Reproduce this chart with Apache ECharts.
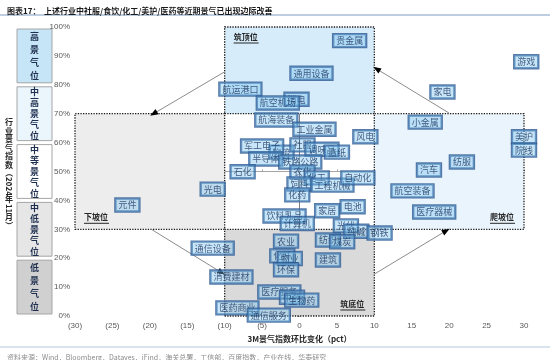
<!DOCTYPE html>
<html><head><meta charset="utf-8">
<script src="https://cdn.jsdelivr.net/npm/echarts@6/dist/echarts.min.js"></script>
<style>html,body{margin:0;padding:0;background:#fff}#c{width:550px;height:360px}</style>
</head><body><div id="c"></div>
<script>
// ---- data ----
const industryNames = ['贵金属','通用设备','航运港口','消电','航空机场','航海装备','工业金属','风电',
  '物流','军工电子','社服','调味品','造纸','半导体','铁路公路','石化','农化','化工','饲料','工程机械','自动化',
  '化药','光电','元件','家居','电池','饮料乳品','计算机','光伏','纯碱','纺织','煤炭','钢铁',
  '农业','化纤','物业','环保','建筑','通信设备','消费建材','医疗服务','中药','生物药','医药商业','通信服务',
  '小金属','家电','游戏','美护','院线','纺服','汽车','航空装备','医疗器械'];
const changeValues = [6.7,1.6,-7.9,-0.4,-2.9,-3.1,2.0,8.8,
  -2.4,-5.0,0.4,3.0,5.0,-4.5,0.1,-7.6,0.4,2.3,0.0,4.4,7.8,
  -0.3,-11.6,-23.0,3.7,7.1,-2.0,-0.3,6.2,7.6,3.8,5.7,10.7,
  -1.8,-2.3,-1.3,-1.8,3.8,-11.6,-9.1,-2.7,-1.0,0.3,-8.3,-4.1,
  16.8,19.1,30.3,30.0,30.0,21.7,17.3,15.1,18.0];
const indexValues = [95.3,84.0,78.5,75.0,73.7,67.8,64.6,62.0,
  56.7,58.8,59.2,57.7,56.7,54.3,53.3,49.9,49.8,47.8,45.7,45.3,47.8,
  41.9,43.9,38.4,36.4,37.8,34.6,32.0,31.2,29.3,26.3,25.7,28.7,
  25.9,20.8,19.9,16.0,19.4,23.5,13.5,8.3,6.5,5.5,2.8,0.3,
  67.1,77.5,88.0,62.0,57.4,53.3,50.5,43.3,36.0];
const xTicksMin = -30, xTicksMax = 30, xTickStep = 5;
const yTicksMin = 0, yTicksMax = 100, yTickStep = 10;
const quadNames = ['筑顶位','下坡位','筑底位','爬坡位'];
const quadX0 = [-10,-30,-10,10];
const quadX1 = [10,-10,10,30];
const quadY0 = [70,30,0,30];
const quadY1 = [100,70,30,70];
const arrowFromX = [-10,-19.8,10,20.0];
const arrowFromY = [84.5,30,14.5,70.2];
const arrowToX = [-19.5,-10.4,19.6,10.3];
const arrowToY = [70,15,29.5,85.5];
const bandNames = ['高景气位','中高景气位','中等景气位','中低景气位','低景气位'];
const bandFrom = [80,60,40,20,0];
const bandTo = [100,80,60,40,20];

// ---- styles ----
const quadColors = ['#d6ecfa','#ededed','#dadada','#e9f4fc'];
const quadLabelCorner = ['tl','bl','br','br'];
const bandColors = ['#c6e6f8','#eaf5fc','#ffffff','#e6e6e6','#d0d0d0'];
const CJK = '"Noto Sans CJK SC", sans-serif';
const LAT = '"Liberation Sans", Arial, sans-serif';

const chart = echarts.init(document.getElementById('c'), null, {renderer:'canvas'});

const quadAreas = quadNames.map((n,i)=>[
  {xAxis:quadX0[i], yAxis:quadY0[i], itemStyle:{color:quadColors[i]}},
  {xAxis:quadX1[i], yAxis:quadY1[i]}
]);
const arrowLines = arrowFromX.map((x,i)=>[{coord:[x,arrowFromY[i]]},{coord:[arrowToX[i],arrowToY[i]]}]);
const arrowHeads = arrowFromX.map((x,i)=>{
  const tx=arrowToX[i], ty=arrowToY[i];
  return [{coord:[tx-(tx-x)*0.03, ty-(ty-arrowFromY[i])*0.03]},{coord:[tx,ty]}];
});

const option = {
  animation:false,
  title:[
    {text:'图表17：  上述行业中社服/食饮/化工/美护/医药等近期景气已出现边际改善', left:2, top:2,
     textStyle:{fontSize:8,fontWeight:'bold',color:'#1a1a1a',fontFamily:CJK}},
    {text:'资料来源：Wind，Bloomberg，Datayes，iFind，海关总署，工信部，百度指数，产业在线，华泰研究', left:2, top:349,
     textStyle:{fontSize:7,fontWeight:'normal',color:'#8c8c8c',fontFamily:CJK}}
  ],
  grid:{left:75,right:26,top:27,bottom:44,containLabel:false},
  xAxis:[
    {type:'value',min:xTicksMin,max:xTicksMax,interval:xTickStep,
     axisLine:{show:false,onZero:false},axisTick:{show:false},splitLine:{show:false},
     axisLabel:{fontSize:8,color:'#595959',fontFamily:LAT,margin:6,
       formatter:v=>v<0?'('+(-v)+')':String(v)},
     name:'3M景气指数环比变化（pct）',nameLocation:'middle',nameGap:19,
     nameTextStyle:{fontSize:8,fontWeight:'bold',color:'#262626',fontFamily:CJK}},
    {type:'value',min:xTicksMin,max:xTicksMax,interval:xTickStep,position:'bottom',
     axisLine:{show:true,onZero:true,onZeroAxisIndex:1,lineStyle:{color:'#a6a6a6',width:1}},
     axisTick:{show:true,inside:true,length:2,lineStyle:{color:'#a6a6a6'}},
     axisLabel:{show:false},splitLine:{show:false}}
  ],
  yAxis:[
    {type:'value',min:yTicksMin,max:yTicksMax,interval:yTickStep,
     axisLine:{show:false,onZero:false},axisTick:{show:false},splitLine:{show:false},
     axisLabel:{fontSize:8,color:'#595959',fontFamily:LAT,margin:5,formatter:v=>v+'%'}},
    {type:'value',min:-50,max:50,show:false,axisLine:{onZero:false}},
    {type:'value',min:yTicksMin,max:yTicksMax,interval:yTickStep,position:'left',
     axisLine:{show:true,onZero:true,onZeroAxisIndex:1,lineStyle:{color:'#7f7f7f',width:1}},
     axisTick:{show:true,inside:false,length:2,lineStyle:{color:'#7f7f7f'}},
     axisLabel:{show:false},splitLine:{show:false}}
  ],
  series:[
    {type:'scatter',xAxisIndex:0,yAxisIndex:0,data:[],z:1,silent:true,
     markArea:{silent:true,
       itemStyle:{borderColor:'#1a1a1a',borderWidth:1.3,borderType:'dotted'},
       label:{show:false},
       data:quadAreas},
     markLine:{silent:true,symbol:['none','none'],
       lineStyle:{color:'#8c8c8c',width:1,type:'solid'},label:{show:false},
       data:arrowLines}},
    {type:'scatter',xAxisIndex:0,yAxisIndex:0,data:[],z:2,silent:true,
     markLine:{silent:true,symbol:['none','triangle'],symbolSize:[6,8],
       lineStyle:{color:'#000',width:1,type:'solid'},label:{show:false},
       data:arrowHeads}},
    {type:'scatter',xAxisIndex:0,yAxisIndex:0,z:5,symbolSize:1,clip:false,silent:true,
     itemStyle:{color:'rgba(0,0,0,0)'},
     data:industryNames.map((n,i)=>({name:n,value:[changeValues[i],indexValues[i]]})),
     label:{show:true,position:'inside',formatter:'{b}',fontSize:9,color:'#1f3864',fontFamily:CJK,
       backgroundColor:'rgba(118,192,238,0.5)',borderColor:'#2e5a94',borderWidth:1.2,padding:[2,3]}}
  ]
};
chart.setOption(option);

// ---- decorations: left band panel, y title, rules, quadrant names ----
const g = [];
g.push({type:'line',shape:{x1:0,y1:15,x2:550,y2:15},style:{stroke:'#a9bcd6',lineWidth:1.5},silent:true});
g.push({type:'line',shape:{x1:0,y1:347,x2:550,y2:347},style:{stroke:'#cdd9ea',lineWidth:1.5},silent:true});
bandNames.forEach((n,i)=>{
  const yt = chart.convertToPixel({yAxisIndex:0}, bandTo[i]);
  const yb = chart.convertToPixel({yAxisIndex:0}, bandFrom[i]);
  g.push({type:'rect',shape:{x:17,y:yt+2,width:35,height:yb-yt-4},
    style:{fill:bandColors[i],stroke:'#a6a6a6',lineWidth:1},silent:true});
  g.push({type:'text',x:34.5,y:(yt+yb)/2,silent:true,
    style:{text:n.split('').join('\n'),align:'center',verticalAlign:'middle',
      fontSize:9,fontWeight:'bold',fill:'#1f2f4f',fontFamily:CJK,lineHeight:n.length>4?11:13}});
});
quadNames.forEach((n,i)=>{
  const c = quadLabelCorner[i];
  const px = chart.convertToPixel({xAxisIndex:0}, c[1]==='l'?quadX0[i]:quadX1[i]);
  const py = chart.convertToPixel({yAxisIndex:0}, c[0]==='t'?quadY1[i]:quadY0[i]);
  const w = 25;
  const x = c[1]==='l' ? px+9 : px-9-w;
  const y = c[0]==='t' ? py+6 : py-16;
  g.push({type:'text',x:x,y:y,silent:true,z:10,
    style:{text:n,align:'left',verticalAlign:'top',fontSize:8,fontWeight:'bold',fill:'#262626',fontFamily:CJK}});
  g.push({type:'line',shape:{x1:x,y1:y+10,x2:x+w,y2:y+10},silent:true,z:10,style:{stroke:'#262626',lineWidth:1}});
});
const yTitleTokens = ['行','业','景','气','指','数','（','2024','年','11','月','）'];
let ty = 118;
yTitleTokens.forEach(t=>{
  const rot = /[0-9（）]/.test(t);
  if (rot) {
    const len = /[0-9]/.test(t) ? t.length*4.6 : 8;
    g.push({type:'text',x:9,y:ty,rotation:-Math.PI/2,silent:true,
      style:{text:t,align:'left',verticalAlign:'middle',fontSize:8,fontWeight:'bold',fill:'#262626',fontFamily:CJK}});
    ty += len;
  } else {
    g.push({type:'text',x:9,y:ty+4,silent:true,
      style:{text:t,align:'center',verticalAlign:'middle',fontSize:8,fontWeight:'bold',fill:'#262626',fontFamily:CJK}});
    ty += 8.5;
  }
});
chart.setOption({graphic:g});
</script>
</body></html>
